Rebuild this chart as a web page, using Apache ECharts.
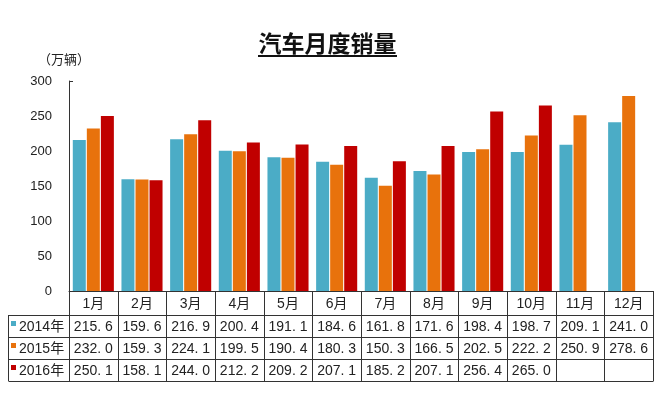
<!DOCTYPE html>
<html><head><meta charset="utf-8">
<script src="https://cdn.jsdelivr.net/npm/echarts@6/dist/echarts.min.js"></script>
<style>html,body{margin:0;padding:0;background:#fff;}#c{width:664px;height:393px;}</style>
</head><body><div id="c"></div>
<script>
var months = ['1月','2月','3月','4月','5月','6月','7月','8月','9月','10月','11月','12月'];
var seriesNames = ['2014年','2015年','2016年'];
var s2014 = [215.6,159.6,216.9,200.4,191.1,184.6,161.8,171.6,198.4,198.7,209.1,241.0];
var s2015 = [232.0,159.3,224.1,199.5,190.4,180.3,150.3,166.5,202.5,222.2,250.9,278.6];
var s2016 = [250.1,158.1,244.0,212.2,209.2,207.1,185.2,207.1,256.4,265.0,null,null];
var yTicks = [0,50,100,150,200,250,300];
var colors = ['#4BACC6','#E8720C','#C00000'];
var titleText = '汽车月度销量';
var unitText = '（万辆）';

(function(){
var FONT = '"Liberation Sans","Noto Sans CJK SC",sans-serif';
var gridLeft = 69, gridRight = 11, gridTop = 81, gridBottom = 102;
var chart = echarts.init(document.getElementById('c'));
var allSeries = [s2014, s2015, s2016];

chart.setOption({
  animation:false,
  backgroundColor:'#fff',
  grid:{left:gridLeft, right:gridRight, top:gridTop, bottom:gridBottom},
  xAxis:{type:'category', data:months, axisLabel:{show:false}, axisTick:{show:false},
    axisLine:{lineStyle:{color:'#333', width:1}}},
  yAxis:{type:'value', min:yTicks[0], max:yTicks[yTicks.length-1], interval:50,
    splitLine:{show:false}, axisTick:{show:false},
    axisLine:{show:true, lineStyle:{color:'#333', width:1}},
    axisLabel:{margin:17, fontSize:13, color:'#222', fontFamily:FONT}},
  series: allSeries.map(function(d,i){
    return {name:seriesNames[i], type:'bar', data:d, barWidth:13, barGap:'8%',
      itemStyle:{color:colors[i]}};
  })
});

var g = [];
var tTop = 393 - gridBottom;
var headerH = 24, rowH = 22;
var tRight = 664 - gridRight;
var tBottom = tTop + headerH + rowH*3;
var ls = {stroke:'#333', lineWidth:1};
var catW = (tRight - gridLeft) / months.length;
// title + underline
g.push({type:'text', x:327.5, y:43, style:{text:titleText, textAlign:'center', textVerticalAlign:'middle',
  fill:'#111', font:'bold 23px "Noto Sans CJK SC"'}});
g.push({type:'line', shape:{x1:258, y1:56, x2:397, y2:56}, style:{stroke:'#111', lineWidth:2}});
// unit
g.push({type:'text', x:38, y:59, style:{text:unitText, textVerticalAlign:'middle', fill:'#222', font:'13px "Noto Sans CJK SC"'}});
// small top tick
g.push({type:'line', shape:{x1:69, y1:81.5, x2:73, y2:81.5}, style:ls});
for (var k=0;k<=months.length;k++){
  var x = Math.round(gridLeft + k*catW) + 0.5;
  g.push({type:'line', shape:{x1:x, y1:tTop, x2:x, y2:tBottom}, style:ls});
}
var xl = 8.5;
g.push({type:'line', shape:{x1:xl, y1:tTop+headerH, x2:xl, y2:tBottom}, style:ls});
for (var r=0;r<=3;r++){
  var y = tTop + headerH + r*rowH + 0.5;
  g.push({type:'line', shape:{x1:xl, y1:y, x2:tRight+0.5, y2:y}, style:ls});
}
months.forEach(function(m,i){
  var cx = chart.convertToPixel({xAxisIndex:0}, m);
  g.push({type:'text', x:cx, y:tTop+headerH/2+1, style:{text:m, textAlign:'center', textVerticalAlign:'middle',
    font:'14px ' + FONT, fill:'#222'}});
});
allSeries.forEach(function(d,r){
  var cy = tTop + headerH + r*rowH + rowH/2 + 1;
  g.push({type:'rect', shape:{x:11, y:cy-6, width:5, height:5}, style:{fill:colors[r]}});
  g.push({type:'text', x:19, y:cy, style:{text:seriesNames[r], textVerticalAlign:'middle',
    font:'14px ' + FONT, fill:'#222'}});
  d.forEach(function(v,i){
    if (v === null) return;
    var cx = chart.convertToPixel({xAxisIndex:0}, months[i]);
    g.push({type:'text', x:cx, y:cy, style:{text:v.toFixed(1).replace('.', '. '), textAlign:'center', textVerticalAlign:'middle',
      font:'14px ' + FONT, fill:'#222'}});
  });
});
chart.setOption({graphic:g});
})();
</script></body></html>
